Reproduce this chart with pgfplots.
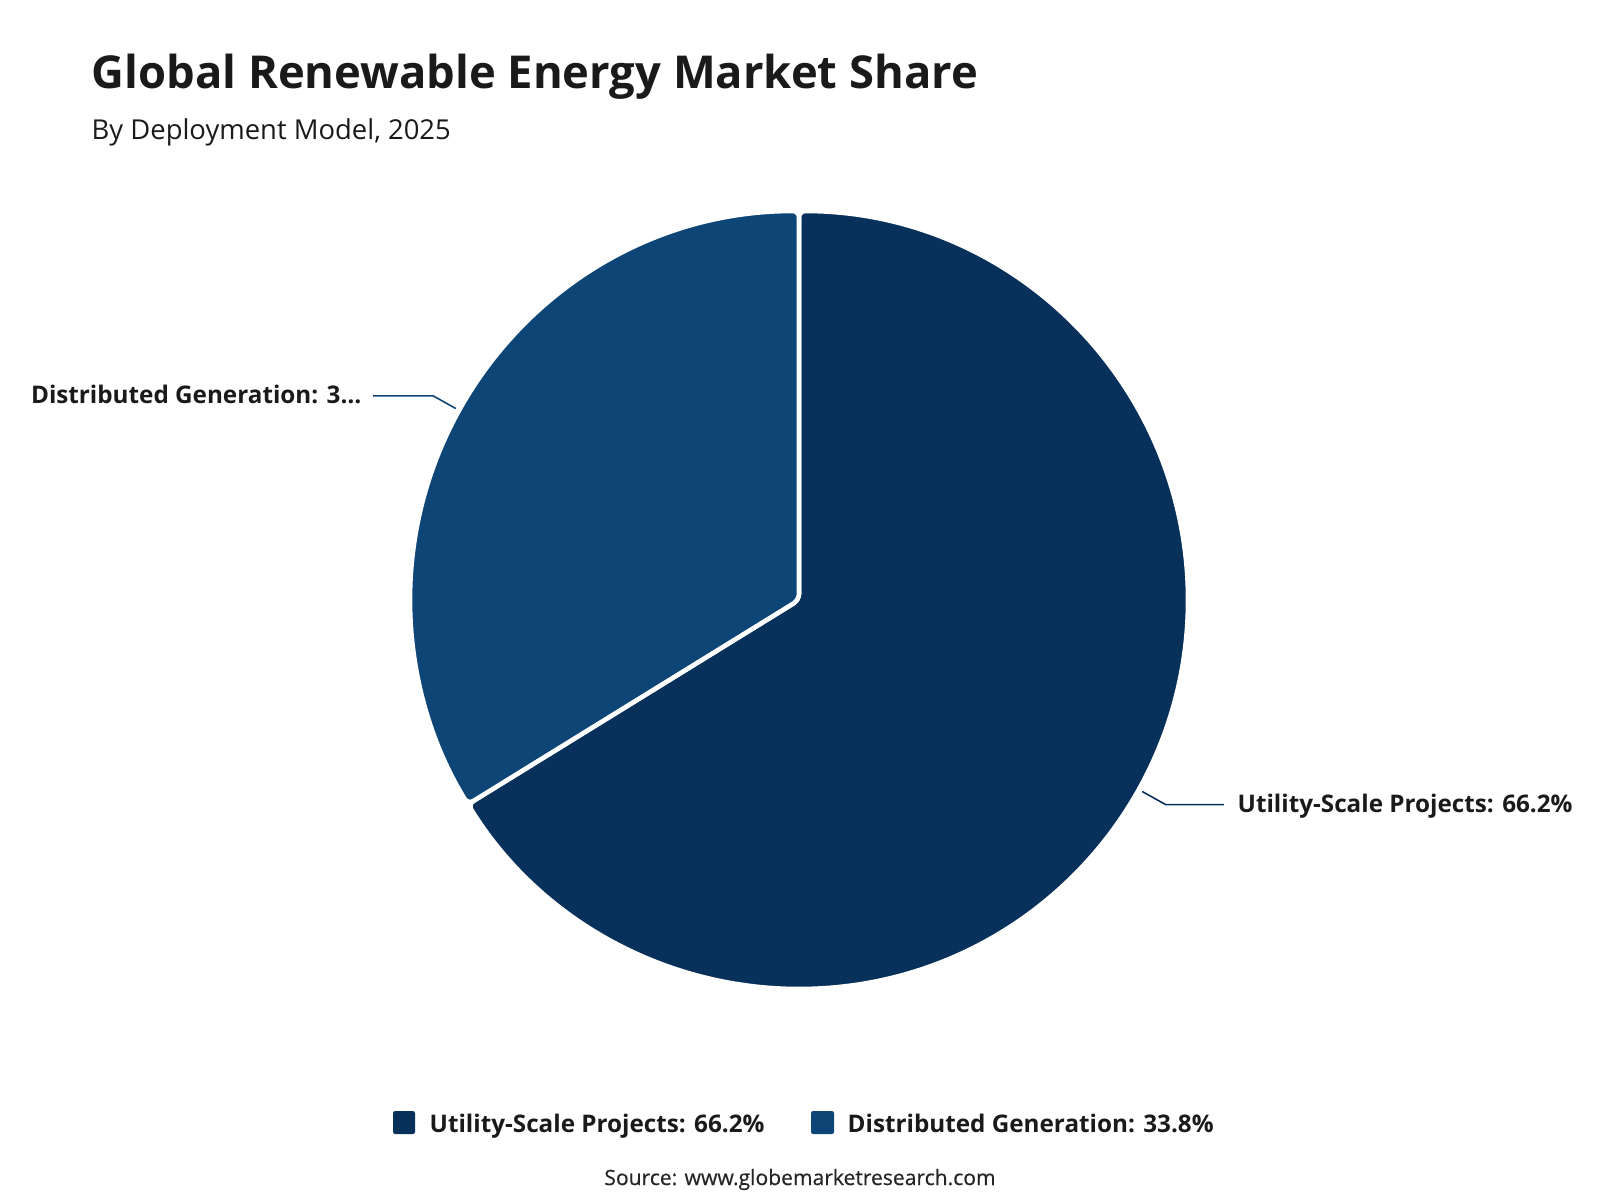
\documentclass[border=0pt]{standalone}
\usepackage{pgfplots}
\pgfplotsset{compat=1.18}
\usepackage{pgfplotstable}
\usepackage{fontspec}
\setmainfont{Open Sans}
\usetikzlibrary{calc}

\definecolor{utility}{HTML}{07305A}
\definecolor{distrib}{HTML}{0D4577}
\definecolor{ink}{HTML}{1A1A1A}
\definecolor{srcink}{HTML}{262626}

% market share by deployment model (percent)
\pgfplotstableread{
model share
Utility 66.2
Distributed 33.8
}\sharetable

\begin{document}
\begin{tikzpicture}[x=1cm,y=1cm]
\useasboundingbox (0,0) rectangle (16,12);

\pgfplotstablegetelem{0}{share}\of\sharetable \let\shareU\pgfplotsretval
\pgfplotstablegetelem{1}{share}\of\sharetable \let\shareD\pgfplotsretval
% slice angles: utility runs clockwise from 12 o'clock, distributed counter-clockwise
\pgfmathsetmacro\endU{90-3.6*\shareU}
\pgfmathsetmacro\endD{90+3.6*\shareD}
\pgfmathsetmacro\midU{90-1.8*\shareU}
\pgfmathsetmacro\midD{90+1.8*\shareD}
\def\R{3.89cm}

\begin{axis}[
  hide axis, scale only axis,
  width=7.78cm, height=7.78cm,
  xmin=-1, xmax=1, ymin=-1, ymax=1,
  at={(7.99cm,6cm)}, anchor=center,
  clip=false,
]
  \coordinate (C) at (axis cs:0,0);
  \fill[utility, draw=white, line width=1.3pt, rounded corners=1.8pt]
    (axis cs:0,0) -- ([shift={(90:\R)}]axis cs:0,0)
    arc[start angle=90, end angle=\endU, radius=\R] -- cycle;
  \fill[distrib, draw=white, line width=1.3pt, rounded corners=1.8pt]
    (axis cs:0,0) -- ([shift={(90:\R)}]axis cs:0,0)
    arc[start angle=90, end angle=\endD, radius=\R] -- cycle;
\end{axis}

% leader lines from the middle of each slice
\draw[utility, line width=0.45pt]
  ($(C)+(\midU:3.93)$) -- ($(C)+(\midU:4.20)$) -- ++(0.58,0);
\draw[distrib, line width=0.45pt]
  ($(C)+(\midD:3.93)$) -- ($(C)+(\midD:4.19)$) -- ++(-0.60,0);

% titles
\node[anchor=base west, inner sep=0, text=ink, font=\fontsize{12.9}{15}\selectfont\bfseries]
  at (0.91,11.11) {Global Renewable Energy Market Share};
\node[anchor=base west, inner sep=0, text=ink, font=\fontsize{7.8}{9}\selectfont]
  at (0.91,10.60) {By Deployment Model, 2025};

% slice labels
\node[anchor=base east, inner sep=0, text=ink, font=\fontsize{6.9}{8}\selectfont\bfseries]
  at (3.62,7.97) {Distributed Generation: 3…};
\node[anchor=base west, inner sep=0, text=ink, font=\fontsize{6.9}{8}\selectfont\bfseries]
  at (12.37,3.88) {Utility-Scale Projects: 66.2\%};

% legend
\fill[utility, rounded corners=0.6pt] (3.93,0.66) rectangle (4.15,0.89);
\node[anchor=base west, inner sep=0, text=ink, font=\fontsize{6.9}{8}\selectfont\bfseries]
  at (4.29,0.68) {Utility-Scale Projects: 66.2\%};
\fill[distrib, rounded corners=0.6pt] (8.11,0.66) rectangle (8.34,0.89);
\node[anchor=base west, inner sep=0, text=ink, font=\fontsize{6.9}{8}\selectfont\bfseries]
  at (8.47,0.68) {Distributed Generation: 33.8\%};

% source line
\node[anchor=base, inner sep=0, text=srcink, font=\fontsize{6.0}{7}\selectfont\addfontfeature{FakeBold=0.5}]
  at (8.00,0.15) {Source: www.globemarketresearch.com};
\end{tikzpicture}
\end{document}
